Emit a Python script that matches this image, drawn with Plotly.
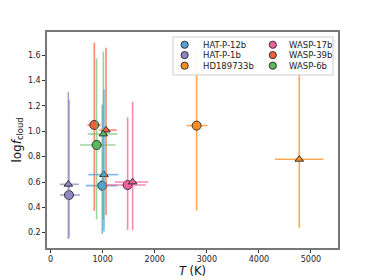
import plotly.graph_objects as go

planets = ["HAT-P-12b", "HAT-P-1b", "HD189733b", "WASP-17b", "WASP-39b", "WASP-6b"]
colors = ["#4fa3d8", "#8f86c2", "#ff8c1a", "#f0609e", "#f2603c", "#5cb85c"]
err_colors = ["rgba(79,163,216,0.75)", "rgba(143,134,194,0.75)", "rgba(255,140,26,0.75)",
              "rgba(240,96,158,0.75)", "rgba(242,96,60,0.75)", "rgba(92,184,92,0.6)"]

# circle-marker points
circ_T = [992, 352, 2804, 1479, 839, 883]
circ_T_lo = [679, 179, 2612, 1063, 704, 563]
circ_T_hi = [1280, 563, 3009, 1825, 960, 1248]
circ_f = [0.571, 0.497, 1.045, 0.576, 1.050, 0.892]
circ_f_lo = [0.19, 0.16, 0.374, 0.221, 0.374, 0.305]
circ_f_hi = [1.21, 1.25, 1.65, 1.11, 1.70, 1.576]

# triangle-marker points
tri_T = [1024, 340, 4776, 1575, 1063, 1012]
tri_T_lo = [723, 179, 4309, 1236, 935, 711]
tri_T_hi = [1300, 544, 5237, 1876, 1268, 1280]
tri_f = [0.658, 0.582, 0.779, 0.600, 1.010, 0.979]
tri_f_lo = [0.21, 0.15, 0.239, 0.22, 0.34, 0.30]
tri_f_hi = [1.33, 1.31, 1.65, 1.232, 1.66, 1.63]

legend_cols = [["HAT-P-12b", "HAT-P-1b", "HD189733b"], ["WASP-17b", "WASP-39b", "WASP-6b"]]

fig = go.Figure()

def add_point(i, T, Tlo, Thi, f, flo, fhi, symbol, size):
    fig.add_trace(go.Scatter(
        x=[T], y=[f], mode="markers", showlegend=False, name=planets[i],
        marker=dict(symbol=symbol, size=size, color=colors[i],
                    line=dict(color="#333333", width=1)),
        error_x=dict(type="data", symmetric=False, array=[Thi - T], arrayminus=[T - Tlo],
                     color=err_colors[i], thickness=1.6, width=0),
        error_y=dict(type="data", symmetric=False, array=[fhi - f], arrayminus=[f - flo],
                     color=err_colors[i], thickness=1.6, width=0),
    ))

for i in range(len(planets)):
    add_point(i, circ_T[i], circ_T_lo[i], circ_T_hi[i], circ_f[i], circ_f_lo[i], circ_f_hi[i], "circle", 9)
for i in range(len(planets)):
    add_point(i, tri_T[i], tri_T_lo[i], tri_T_hi[i], tri_f[i], tri_f_lo[i], tri_f_hi[i], "triangle-up", 7.5)

# custom compact legend (box, marker circles, labels)
shapes = [dict(type="rect", xref="paper", yref="paper", x0=0.433, x1=0.983, y0=0.801, y1=0.977,
               fillcolor="rgba(255,255,255,0.92)", line=dict(color="#cccccc", width=1), layer="above")]
annotations = []
col_marker_x = [0.473, 0.776]
col_text_x = [0.528, 0.826]
row_y = [0.941, 0.893, 0.844]
for c, names in enumerate(legend_cols):
    for r, name in enumerate(names):
        i = planets.index(name)
        shapes.append(dict(type="circle", xref="paper", yref="paper",
                           xsizemode="pixel", ysizemode="pixel",
                           xanchor=col_marker_x[c], yanchor=row_y[r],
                           x0=-3.6, x1=3.6, y0=-3.6, y1=3.6,
                           fillcolor=colors[i], line=dict(color="#333333", width=1), layer="above"))
        annotations.append(dict(text=name, xref="paper", yref="paper", x=col_text_x[c], y=row_y[r],
                                xanchor="left", yanchor="middle", showarrow=False,
                                font=dict(family="DejaVu Sans", size=8.5, color="#222")))

axis_common = dict(showline=True, linecolor="#777777", linewidth=1.5, mirror=True,
                   ticks="outside", ticklen=3, tickcolor="#333333", showgrid=False, zeroline=False,
                   automargin=False,
                   tickfont=dict(family="DejaVu Sans", size=8, color="#222222"))

fig.update_layout(
    width=374, height=280,
    margin=dict(l=47, r=36, t=32, b=32),
    paper_bgcolor="white", plot_bgcolor="white",
    showlegend=False,
    shapes=shapes, annotations=annotations,
    xaxis=dict(range=[-70, 5520], tickvals=[0, 1000, 2000, 3000, 4000, 5000],
               title=dict(text="<i>T</i> (K)", font=dict(family="DejaVu Sans", size=11.5, color="#111"),
                          standoff=2),
               **axis_common),
    yaxis=dict(range=[0.079, 1.784], tickvals=[0.2, 0.4, 0.6, 0.8, 1.0, 1.2, 1.4, 1.6],
               tickformat=".1f",
               title=dict(text="log<i>f</i><sub>cloud</sub>", font=dict(family="DejaVu Sans", size=12, color="#111"),
                          standoff=4),
               **axis_common),
)

fig.write_html("out.html", config={"displayModeBar": False},
               post_script="document.body.style.margin='0px';")
